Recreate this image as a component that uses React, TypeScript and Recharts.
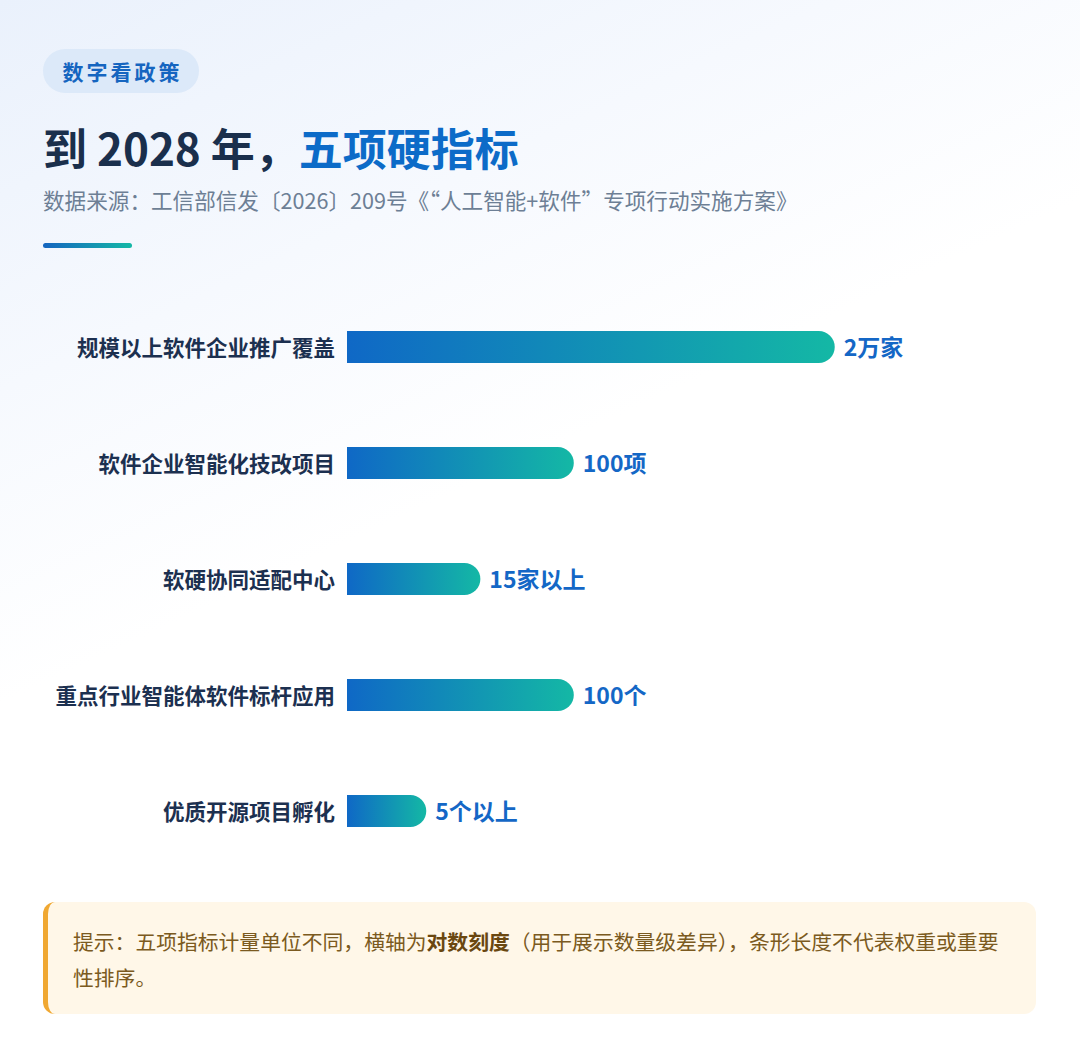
import { BarChart, Bar, XAxis, YAxis, LabelList } from "recharts";

const FONT = '"Noto Sans CJK SC", "Noto Sans", sans-serif';

// 五项指标（横轴为对数刻度）
const categories = [
  "规模以上软件企业推广覆盖",
  "软件企业智能化技改项目",
  "软硬协同适配中心",
  "重点行业智能体软件标杆应用",
  "优质开源项目孵化",
];
const values = [20000, 100, 15, 100, 5];
const valueLabels = ["2万家", "100项", "15家以上", "100个", "5个以上"];

const chartData = categories.map((name, i) => ({
  name,
  value: values[i],
  label: valueLabels[i],
}));

function CategoryTick(props: any) {
  const { x, y, payload } = props;
  return (
    <text
      x={x}
      y={y - 1}
      textAnchor="end"
      dominantBaseline="central"
      fontSize={21.5}
      fontWeight={700}
      fill="#1c3050"
      fontFamily={FONT}
    >
      {payload.value}
    </text>
  );
}

function ValueLabel(props: any) {
  const { x, y, width, height, index } = props;
  return (
    <text
      x={x + width + 9}
      y={y + height / 2 - 1}
      dominantBaseline="central"
      fontSize={23}
      fontWeight={700}
      fill="#1467c6"
      fontFamily={FONT}
    >
      {valueLabels[index]}
    </text>
  );
}

export default function App() {
  return (
    <div
      style={{
        position: "absolute",
        left: 0,
        top: 0,
        width: 1080,
        height: 1062,
        overflow: "hidden",
        fontFamily: FONT,
        background: "linear-gradient(155deg, #eaf1fc 0%, #f6f9fe 25%, #ffffff 45%)",
      }}
    >
      {/* badge */}
      <div
        style={{
          position: "absolute",
          left: 43,
          top: 49,
          width: 156,
          height: 44,
          borderRadius: 22,
          background: "#dce9f9",
          color: "#1565c0",
          fontSize: 21,
          fontWeight: 700,
          letterSpacing: 3,
          lineHeight: "44px",
          textAlign: "center",
          textIndent: 3,
        }}
      >
        数字看政策
      </div>

      {/* title */}
      <div
        style={{
          position: "absolute",
          left: 43,
          top: 118,
          fontSize: 44,
          fontWeight: 700,
          lineHeight: "58px",
          color: "#1a2f4c",
          whiteSpace: "nowrap",
        }}
      >
        到 2028 年，<span style={{ color: "#0c6bc8" }}>五项硬指标</span>
      </div>

      {/* source */}
      <div
        style={{
          position: "absolute",
          left: 43,
          top: 185,
          fontSize: 21.6,
          lineHeight: "30px",
          color: "#6d7f95",
          whiteSpace: "nowrap",
        }}
      >
        数据来源：工信部信发〔2026〕209号《“人工智能+软件”专项行动实施方案》
      </div>

      {/* accent line */}
      <div
        style={{
          position: "absolute",
          left: 43,
          top: 243,
          width: 89,
          height: 5,
          borderRadius: 3,
          background: "linear-gradient(90deg, #1565c0, #14b8a6)",
        }}
      />

      <div style={{ position: "absolute", left: 0, top: 289 }}>
        <BarChart
          width={1080}
          height={580}
          data={chartData}
          layout="vertical"
          margin={{ top: 0, right: 166, bottom: 0, left: 0 }}
        >
          <defs>
            <linearGradient id="barGrad" x1="0" y1="0" x2="1" y2="0">
              <stop offset="0%" stopColor="#0f68c6" />
              <stop offset="100%" stopColor="#14b8a5" />
            </linearGradient>
          </defs>
          <XAxis
            type="number"
            scale="log"
            domain={[1, 100000]}
            allowDataOverflow
            hide
          />
          <YAxis
            type="category"
            dataKey="name"
            width={347}
            axisLine={false}
            tickLine={false}
            tickSize={0}
            tickMargin={12}
            tick={<CategoryTick />}
            interval={0}
          />
          <Bar
            dataKey="value"
            fill="url(#barGrad)"
            barSize={32}
            radius={[0, 16, 16, 0]}
            isAnimationActive={false}
          >
            <LabelList dataKey="label" content={<ValueLabel />} />
          </Bar>
        </BarChart>
      </div>

      {/* note */}
      <div
        style={{
          position: "absolute",
          left: 43,
          top: 902,
          width: 993,
          height: 112,
          boxSizing: "border-box",
          borderRadius: 12,
          borderLeft: "5px solid #f0a832",
          background: "#fff7e8",
          padding: "21px 0 0 25px",
          fontSize: 20.8,
          lineHeight: "36px",
          color: "#7b5a20",
          whiteSpace: "nowrap",
        }}
      >
        提示：五项指标计量单位不同，横轴为<b style={{ color: "#6a4710" }}>对数刻度</b>（用于展示数量级差异），条形长度不代表权重或重要
        <br />
        性排序。
      </div>
    </div>
  );
}
